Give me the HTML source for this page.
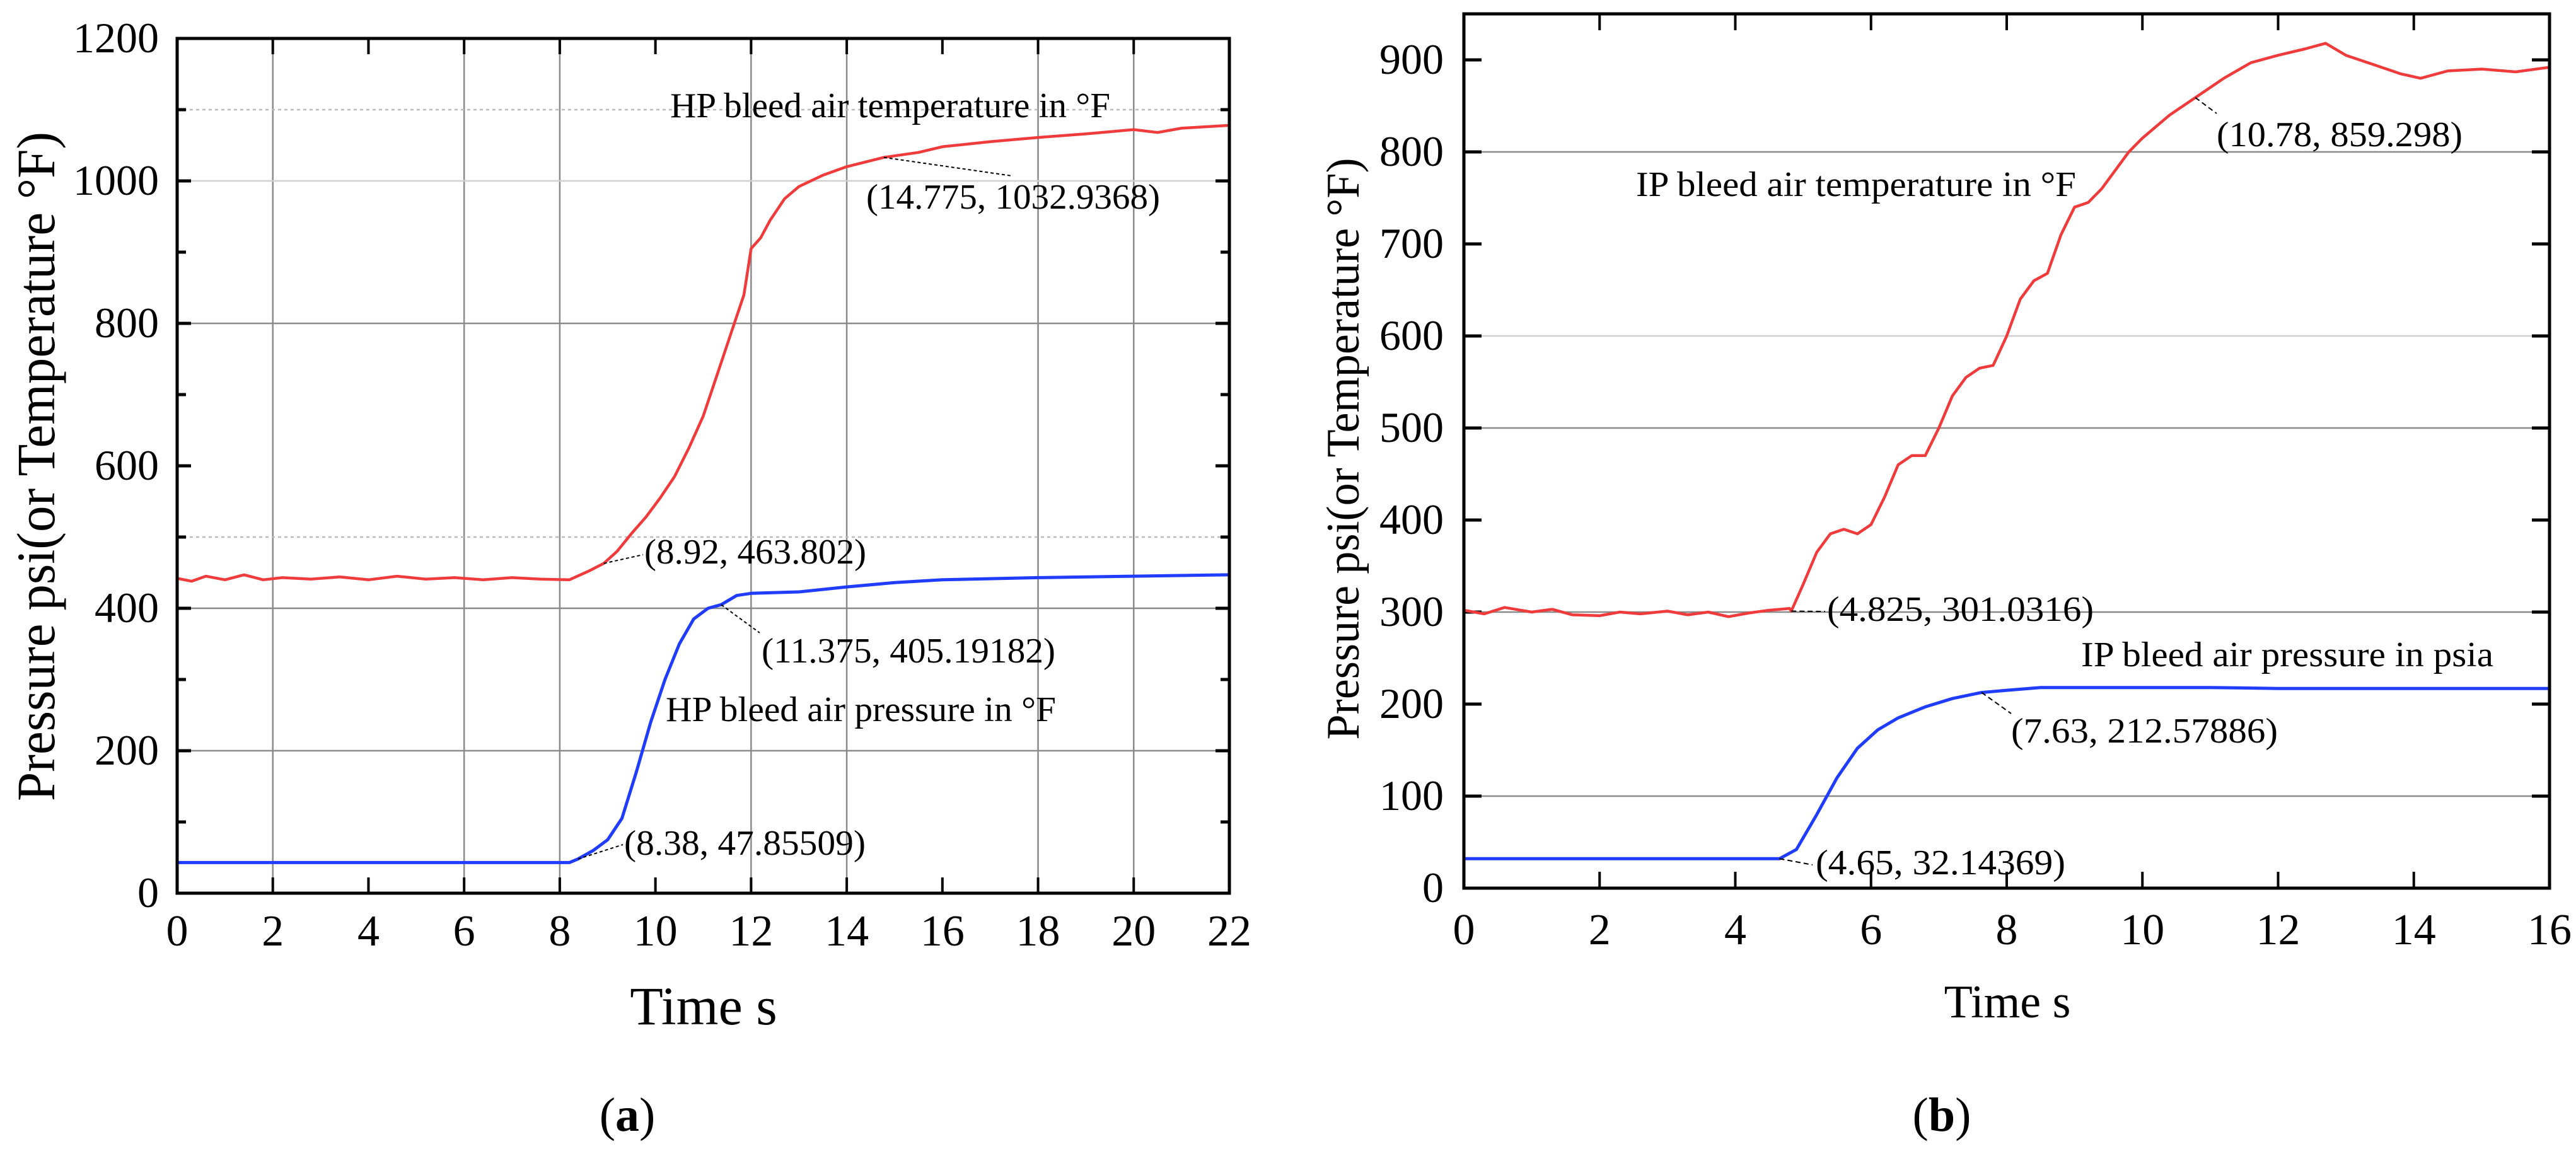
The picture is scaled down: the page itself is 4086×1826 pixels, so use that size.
<!DOCTYPE html>
<html><head><meta charset="utf-8"><style>
html,body{margin:0;padding:0;background:#fff;}
svg, svg text{font-family:"Liberation Serif","DejaVu Serif",serif !important;}
</style></head><body>
<svg id="svg" width="4086" height="1821" viewBox="0 0 4086 1821" xmlns="http://www.w3.org/2000/svg" font-family="Liberation Serif, serif">
<g id="ga"></g>
<g id="gb"></g>
</svg>
<script>
// ---- Chart A data ----
const aTempX = [0,0.3,0.6,1,1.4,1.8,2.2,2.8,3.4,4,4.6,5.2,5.8,6.4,7,7.6,8.2,8.6,8.92,9.2,9.5,9.8,10.1,10.4,10.7,11,11.3,11.6,11.85,12,12.2,12.4,12.7,13,13.5,14,14.775,15.5,16,17,18,19,20,20.5,21,21.5,22];
const aTempY = [442,438,445,440,447,440,443,441,444,440,445,441,443,440,443,441,440,452,463,480,505,528,555,585,625,670,730,790,840,905,920,945,975,992,1008,1020,1033,1040,1048,1055,1061,1066,1072,1068,1074,1076,1078];
const aPresX = [0,2,4,6,8,8.2,8.38,8.7,9,9.3,9.6,9.9,10.2,10.5,10.8,11.1,11.375,11.7,12,12.5,13,14,15,16,18,20,22];
const aPresY = [43,43,43,43,43,43,48,60,75,105,170,240,300,350,385,400,405,418,421,422,423,430,436,440,443,445,447];
const aXTicks = [0,2,4,6,8,10,12,14,16,18,20,22];
const aYTicks = [0,200,400,600,800,1000,1200];
// ---- Chart B data ----
const bTempX = [0,0.3,0.6,1,1.3,1.6,2,2.3,2.6,3,3.3,3.6,3.9,4.2,4.5,4.8,4.825,5,5.2,5.4,5.6,5.8,6,6.2,6.4,6.6,6.8,7,7.2,7.4,7.6,7.8,8,8.2,8.4,8.6,8.8,9,9.2,9.4,9.6,9.8,10,10.4,10.78,11.2,11.6,12,12.4,12.7,13,13.4,13.8,14.1,14.5,15,15.5,16];
const bTempY = [302,298,305,300,303,297,296,300,298,301,297,300,295,299,302,304,301,330,365,385,390,385,395,425,460,470,470,500,535,555,565,568,600,640,660,668,710,740,745,760,780,800,815,840,859,880,897,905,912,918,905,895,885,880,888,890,887,892];
const bPresX = [0,1,2,3,4,4.65,4.9,5.2,5.5,5.8,6.1,6.4,6.8,7.2,7.63,8,8.5,9,10,11,12,13,14,15,16];
const bPresY = [32,32,32,32,32,32,42,80,120,152,172,185,197,206,212.6,215,218,218,218,218,217,217,217,217,217];
const bXTicks = [0,2,4,6,8,10,12,14,16];
const bYTicks = [0,100,200,300,400,500,600,700,800,900];

const NS="http://www.w3.org/2000/svg";
const FF="Liberation Serif, DejaVu Serif, serif";
function mk(parent,tag,attrs,text){
  const e=document.createElementNS(NS,tag);
  for(const k in attrs) e.setAttribute(k,attrs[k]);
  if(tag==='text') e.setAttribute('font-family',FF);
  if(text!==undefined) e.textContent=text;
  parent.appendChild(e); return e;
}
function scale(d0,d1,r0,r1){return v=>r0+(v-d0)/(d1-d0)*(r1-r0);}
function pathFrom(xs,ys,sx,sy){return xs.map((x,i)=>(i?'L':'M')+sx(x).toFixed(1)+' '+sy(ys[i]).toFixed(1)).join(' ');}

// ===== Chart A =====
(function(){
  const g=document.getElementById('ga');
  const L=281,R=1950,T=61,B=1417;
  const sx=scale(0,22,L,R), sy=scale(0,1200,B,T);
  [2,6,8,12,14,18,20].forEach(v=>{
    const l=mk(g,'line',{x1:sx(v),x2:sx(v),y1:T,y2:B,stroke:'#8a8a8a','stroke-width':2.5});
    
    
  });
  [[200,'#8a8a8a',''],[400,'#8a8a8a',''],[800,'#8a8a8a',''],[1000,'#cfcfcf',''],[500,'#bbbbbb','5 5'],[1100,'#bbbbbb','5 5']].forEach(h=>{
    const l=mk(g,'line',{x1:L,x2:R,y1:sy(h[0]),y2:sy(h[0]),stroke:h[1],'stroke-width':2.5,'stroke-dasharray':h[2]});
    
    
  });
  for(let v=0;v<=1200;v+=100){
    const len=v%200===0?22:14;
    mk(g,'line',{x1:L,x2:L+len,y1:sy(v),y2:sy(v),stroke:'#000','stroke-width':5});
    mk(g,'line',{x1:R,x2:R-len,y1:sy(v),y2:sy(v),stroke:'#000','stroke-width':5});
  }
  aXTicks.forEach(v=>{
    mk(g,'line',{x1:sx(v),x2:sx(v),y1:B,y2:B-25,stroke:'#000','stroke-width':4});
    mk(g,'line',{x1:sx(v),x2:sx(v),y1:T,y2:T+25,stroke:'#000','stroke-width':4});
    const t=mk(g,'text',{x:sx(v),y:1500,'font-size':70,'text-anchor':'middle'},String(v));
    
    
  });
  aYTicks.forEach(v=>{
    const t=mk(g,'text',{x:252,y:sy(v)+22,'font-size':68,'text-anchor':'end'},String(v));
    
    
  });
  const red=mk(g,'path',{d:pathFrom(aTempX,aTempY,sx,sy),fill:'none',stroke:'#ef3b3b','stroke-width':4.5,'stroke-linejoin':'round'});
  
  
  const blue=mk(g,'path',{d:pathFrom(aPresX,aPresY,sx,sy),fill:'none',stroke:'#1f3cff','stroke-width':5,'stroke-linejoin':'round'});
  
  
  const fr=mk(g,'rect',{x:L,y:T,width:R-L,height:B-T,fill:'none',stroke:'#000','stroke-width':5});
  
  
  [[14.775,1033,1605,279],[8.92,463,1020,880],[11.375,405,1205,1004],[8.38,48,988,1340]].forEach(p=>{
    mk(g,'line',{x1:sx(p[0]),y1:sy(p[1]),x2:p[2],y2:p[3],stroke:'#000','stroke-width':2,'stroke-dasharray':'5 4'});
  });
  const labs=[[1063,186,698,'HP bleed air temperature in °F','series-label-temperature'],
    [1374,331,466,'(14.775, 1032.9368)','annotation'],
    [1022,894,352,'(8.92, 463.802)','annotation'],
    [1208,1051,466,'(11.375, 405.19182)','annotation'],
    [1056,1144,619,'HP bleed air pressure in °F','series-label-pressure'],
    [990,1356,383,'(8.38, 47.85509)','annotation']];
  labs.forEach(l=>{
    const t=mk(g,'text',{x:l[0],y:l[1],'font-size':56,textLength:l[2],lengthAdjust:'spacingAndGlyphs'},l[3]);
    
    
  });
  const yt=mk(g,'text',{x:0,y:0,'font-size':86,'text-anchor':'middle',transform:'translate(86,740) rotate(-90)',textLength:1062,lengthAdjust:'spacingAndGlyphs'},'Pressure psi(or Temperature °F)');
  
  
  const xt=mk(g,'text',{x:1116,y:1625,'font-size':86,'text-anchor':'middle'},'Time s');
  
  
  const cap=mk(g,'text',{x:995,y:1794,'font-size':76,'text-anchor':'middle'},'(');
  
  
  mk(cap,'tspan',{'font-weight':'bold'},'a');
  mk(cap,'tspan',{},')');
})();

// ===== Chart B =====
(function(){
  const g=document.getElementById('gb');
  const L=2322,R=4044,T=22,B=1409;
  const sx=scale(0,16,L,R), sy=scale(0,950,B,T);
  [[100,'#8a8a8a'],[300,'#8a8a8a'],[500,'#8a8a8a'],[800,'#8a8a8a'],[600,'#cfcfcf']].forEach(h=>{
    const l=mk(g,'line',{x1:L,x2:R,y1:sy(h[0]),y2:sy(h[0]),stroke:h[1],'stroke-width':2.5});
    
    
  });
  bYTicks.forEach(v=>{
    mk(g,'line',{x1:L,x2:L+28,y1:sy(v),y2:sy(v),stroke:'#000','stroke-width':5});
    mk(g,'line',{x1:R,x2:R-28,y1:sy(v),y2:sy(v),stroke:'#000','stroke-width':5});
    const t=mk(g,'text',{x:2290,y:sy(v)+22,'font-size':68,'text-anchor':'end'},String(v));
    
    
  });
  bXTicks.forEach(v=>{
    mk(g,'line',{x1:sx(v),x2:sx(v),y1:B,y2:B-26,stroke:'#000','stroke-width':4});
    mk(g,'line',{x1:sx(v),x2:sx(v),y1:T,y2:T+26,stroke:'#000','stroke-width':4});
    const t=mk(g,'text',{x:sx(v),y:1498,'font-size':70,'text-anchor':'middle'},String(v));
    
    
  });
  const red=mk(g,'path',{d:pathFrom(bTempX,bTempY,sx,sy),fill:'none',stroke:'#ef3b3b','stroke-width':4.5,'stroke-linejoin':'round'});
  
  
  const blue=mk(g,'path',{d:pathFrom(bPresX,bPresY,sx,sy),fill:'none',stroke:'#1f3cff','stroke-width':5,'stroke-linejoin':'round'});
  
  
  const fr=mk(g,'rect',{x:L,y:T,width:R-L,height:B-T,fill:'none',stroke:'#000','stroke-width':5});
  
  
  [[10.78,859,3516,180],[4.825,301,2895,970],[7.63,212.6,3190,1132],[4.65,32,2875,1372]].forEach(p=>{
    mk(g,'line',{x1:sx(p[0]),y1:sy(p[1]),x2:p[2],y2:p[3],stroke:'#000','stroke-width':2,'stroke-dasharray':'8 5'});
  });
  const labs=[[2595,311,698,'IP bleed air temperature in °F','series-label-temperature'],
    [3516,232,390,'(10.78, 859.298)','annotation'],
    [2898,985,423,'(4.825, 301.0316)','annotation'],
    [3301,1057,654,'IP bleed air pressure in psia','series-label-pressure'],
    [3190,1178,423,'(7.63, 212.57886)','annotation'],
    [2880,1387,396,'(4.65, 32.14369)','annotation']];
  labs.forEach(l=>{
    const t=mk(g,'text',{x:l[0],y:l[1],'font-size':56,textLength:l[2],lengthAdjust:'spacingAndGlyphs'},l[3]);
    
    
  });
  const yt=mk(g,'text',{x:0,y:0,'font-size':74,'text-anchor':'middle',transform:'translate(2155,712) rotate(-90)',textLength:923,lengthAdjust:'spacingAndGlyphs'},'Pressure psi(or Temperature °F)');
  
  
  const xt=mk(g,'text',{x:3184,y:1614,'font-size':74,'text-anchor':'middle'},'Time s');
  
  
  const cap=mk(g,'text',{x:3080,y:1794,'font-size':76,'text-anchor':'middle'},'(');
  
  
  mk(cap,'tspan',{'font-weight':'bold'},'b');
  mk(cap,'tspan',{},')');
})();
</script>
</body></html>
